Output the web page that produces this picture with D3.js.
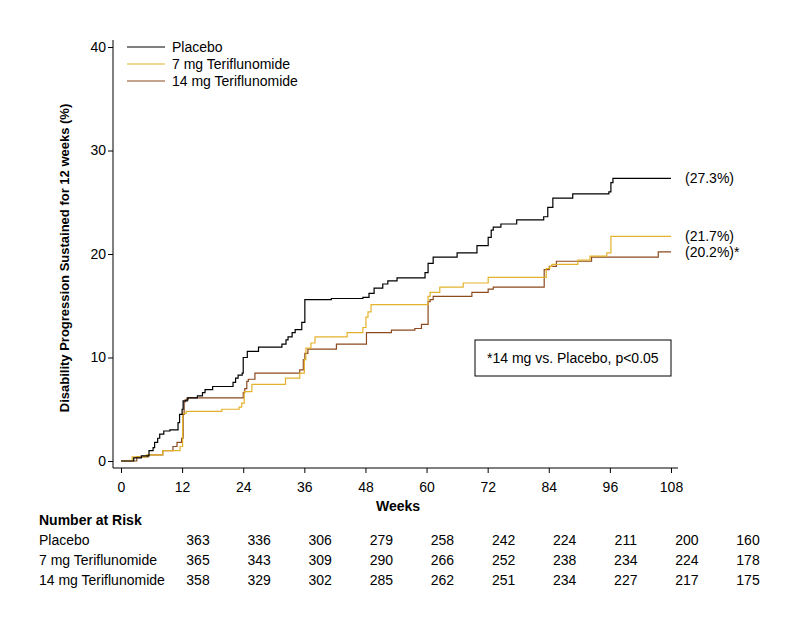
<!DOCTYPE html>
<html>
<head>
<meta charset="utf-8">
<script src="https://cdn.jsdelivr.net/npm/d3@7"></script>
<style>
  body { margin: 0; background: #fff; }
  text { font-family: "Liberation Sans", Arial, sans-serif; fill: #000; }
</style>
</head>
<body>
<div id="chart"></div>
<script>
// step curves (weeks, cumulative %)
const placeboWeeks = [0, 2.5, 4, 5.5, 6.3, 6.6, 7.2, 7.6, 8.4, 9.6, 11.2, 11.5, 12, 12.2, 13, 15, 16, 16.5, 18, 22, 22.5, 23, 23.8, 24, 24.8, 27, 31.6, 32.4, 32.8, 33.6, 34.2, 35.5, 36.1, 41.3, 47.5, 48.7, 49.7, 51.4, 52.4, 54.2, 59.7, 60.3, 61.3, 66, 69.9, 72.1, 72.7, 73.1, 74.6, 77.7, 83, 83.8, 84.8, 88.7, 95.8, 96.2, 96.6];
const placeboPct   = [0, 0.3, 0.5, 1.0, 1.3, 1.8, 2.2, 2.6, 2.9, 3.0, 3.7, 4.5, 5.0, 5.8, 6.1, 6.3, 6.6, 6.9, 7.2, 7.6, 8.0, 8.3, 8.5, 10.0, 10.6, 11.0, 11.3, 11.7, 12.0, 12.4, 12.7, 13.4, 15.6, 15.7, 15.8, 16.2, 16.7, 17.1, 17.4, 17.7, 18.2, 19.1, 19.7, 20.1, 20.8, 21.6, 22.3, 22.6, 22.9, 23.3, 23.6, 24.5, 25.4, 25.8, 26.0, 26.9, 27.3];

const mg7Weeks = [0, 2.2, 5.0, 8.2, 11.6, 12.1, 12.8, 19.8, 23.2, 23.7, 24.2, 25.7, 32.3, 35.1, 36.0, 36.3, 37.3, 38.1, 44.4, 47.5, 48.1, 48.5, 49.1, 60.3, 60.7, 62.6, 67.2, 72.1, 83.5, 84.2, 84.6, 89.7, 92.1, 95.4, 96.2];
const mg7Pct   = [0, 0.4, 0.6, 1.0, 1.4, 4.6, 4.8, 5.0, 5.2, 5.6, 6.7, 7.4, 8.0, 8.5, 9.8, 10.9, 11.4, 12.0, 12.4, 12.9, 13.9, 14.4, 15.1, 15.9, 16.3, 16.8, 17.2, 17.75, 18.6, 18.8, 19.0, 19.4, 19.8, 20.1, 21.7];

const mg14Weeks = [0, 3.1, 5.3, 8.2, 10.2, 11.0, 11.9, 12.2, 12.4, 12.6, 13.2, 24.0, 24.3, 24.7, 25.0, 26.3, 35.1, 35.8, 36.1, 36.7, 42.3, 48.2, 53.1, 57.7, 59.0, 60.3, 60.7, 61.3, 68.9, 72.1, 73.1, 83.1, 84.1, 85.5, 92.4, 105.5];
const mg14Pct   = [0, 0.4, 0.6, 1.0, 1.4, 1.8, 2.2, 4.5, 5.7, 5.9, 6.1, 6.6, 7.0, 7.7, 7.9, 8.5, 8.8, 9.8, 10.4, 10.8, 11.3, 12.4, 12.65, 12.8, 13.2, 15.4, 15.6, 15.9, 16.3, 16.6, 16.8, 18.5, 18.8, 19.3, 19.7, 20.2];

const seriesNames = ['Placebo', '7 mg Teriflunomide', '14 mg Teriflunomide'];
const endLabels = ['(27.3%)', '(21.7%)', '(20.2%)*'];

const weekTicks = [0, 12, 24, 36, 48, 60, 72, 84, 96, 108];
const pctTicks = [0, 10, 20, 30, 40];

const placeboRisk = [363, 336, 306, 279, 258, 242, 224, 211, 200, 160];
const mg7Risk     = [365, 343, 309, 290, 266, 252, 238, 234, 224, 178];
const mg14Risk    = [358, 329, 302, 285, 262, 251, 234, 227, 217, 175];

const colors = ['#000000', '#e3b22c', '#8c4a1e'];

const width = 798, height = 633;

const svg = d3.select('#chart')
  .append('svg')
  .attr('width', width)
  .attr('height', height);

const xScale = d3.scaleLinear().domain([0, 108]).range([121, 671]);
const yScale = d3.scaleLinear().domain([0, 40]).range([461, 47]);

const axisX = xScale.range()[0] - 8;   // y axis line position
const axisY = yScale.range()[0] + 7;   // x axis line position

// axes
const yAxis = svg.append('g')
  .attr('transform', `translate(${axisX},0)`)
  .call(d3.axisLeft(yScale).tickValues(pctTicks).tickSize(5).tickPadding(2).tickSizeOuter(0));
yAxis.select('.domain').remove();
yAxis.selectAll('text').style('font-size', '14px');

svg.append('line')
  .attr('x1', axisX).attr('x2', axisX)
  .attr('y1', yScale(40) - 7).attr('y2', axisY)
  .attr('stroke', '#000');

const xAxis = svg.append('g')
  .attr('transform', `translate(0,${axisY})`)
  .call(d3.axisBottom(xScale).tickValues(weekTicks).tickSize(5).tickPadding(9).tickSizeOuter(0));
xAxis.select('.domain').remove();
xAxis.selectAll('text').style('font-size', '14px');

svg.append('line')
  .attr('x1', axisX).attr('x2', xScale(108) + 7)
  .attr('y1', axisY).attr('y2', axisY)
  .attr('stroke', '#000');

svg.append('text')
  .attr('transform', `translate(69,${(yScale(0) + yScale(40)) / 2 + 4}) rotate(-90)`)
  .attr('text-anchor', 'middle')
  .style('font-size', '13px')
  .style('font-weight', 'bold')
  .text('Disability Progression Sustained for 12 weeks (%)');

svg.append('text')
  .attr('x', (xScale(0) + xScale(108)) / 2 + 2)
  .attr('y', 511)
  .attr('text-anchor', 'middle')
  .style('font-size', '14px')
  .style('font-weight', 'bold')
  .text('Weeks');

// curves
const series = [
  { weeks: placeboWeeks, pct: placeboPct },
  { weeks: mg7Weeks, pct: mg7Pct },
  { weeks: mg14Weeks, pct: mg14Pct },
].map(s => {
  const pts = s.weeks.map((w, i) => ({ w: w, p: s.pct[i] }));
  pts.push({ w: 108, p: s.pct[s.pct.length - 1] });
  return pts;
});

const line = d3.line()
  .x(d => xScale(d.w))
  .y(d => yScale(d.p))
  .curve(d3.curveStepAfter);

// draw brown first, then yellow, black on top
[2, 1, 0].forEach(i => {
  svg.append('path')
    .datum(series[i])
    .attr('d', line)
    .attr('fill', 'none')
    .attr('stroke', colors[i])
    .attr('stroke-width', 1.2);
});

// end labels
series.forEach((s, i) => {
  const last = s[s.length - 1];
  svg.append('text')
    .attr('x', xScale(108) + 14)
    .attr('y', yScale(last.p) + 5)
    .style('font-size', '14px')
    .text(endLabels[i]);
});

// legend
const legend = svg.append('g');
seriesNames.forEach((name, i) => {
  const ly = 47 + i * 17;
  legend.append('line')
    .attr('x1', 127).attr('x2', 165)
    .attr('y1', ly).attr('y2', ly)
    .attr('stroke', colors[i])
    .attr('stroke-width', 1.2);
  legend.append('text')
    .attr('x', 172)
    .attr('y', ly + 5)
    .style('font-size', '14px')
    .text(name);
});

// annotation box
svg.append('rect')
  .attr('x', 475).attr('y', 340)
  .attr('width', 196).attr('height', 36)
  .attr('fill', '#fff')
  .attr('stroke', '#000');
svg.append('text')
  .attr('x', 487).attr('y', 363)
  .style('font-size', '14px')
  .text('*14 mg vs. Placebo, p<0.05');

// number at risk table
svg.append('text')
  .attr('x', 39).attr('y', 525)
  .style('font-size', '14px')
  .style('font-weight', 'bold')
  .text('Number at Risk');

const riskRows = [placeboRisk, mg7Risk, mg14Risk];
riskRows.forEach((row, r) => {
  const ry = 545 + r * 20;
  svg.append('text')
    .attr('x', 39).attr('y', ry)
    .style('font-size', '14px')
    .text(seriesNames[r]);
  svg.selectAll(null)
    .data(row)
    .enter()
    .append('text')
    .attr('x', (d, i) => xScale(weekTicks[i]) + 77)
    .attr('y', ry)
    .attr('text-anchor', 'middle')
    .style('font-size', '14px')
    .text(d => d);
});
</script>
</body>
</html>
